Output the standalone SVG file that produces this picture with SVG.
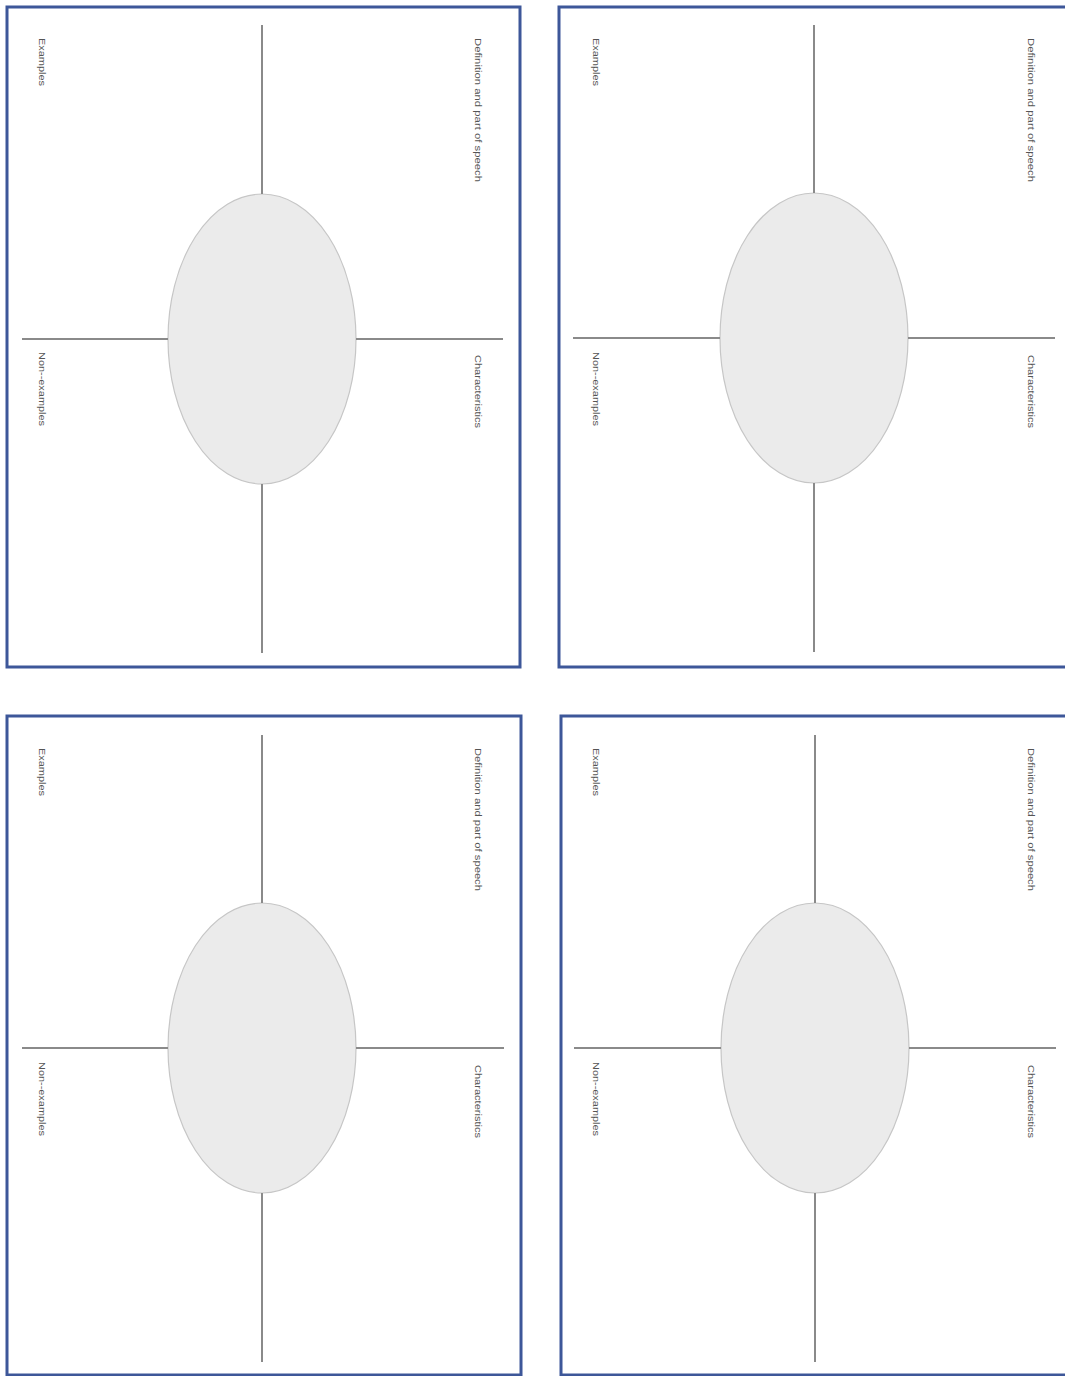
<svg xmlns="http://www.w3.org/2000/svg" width="1065" height="1376" viewBox="0 0 1065 1376">
<style>
.card{fill:#fff;stroke:#3d5799;stroke-width:3}
.ell{fill:#ebebeb;stroke:#c6c6c6;stroke-width:1.2}
.ln{stroke:#8a8a8a;stroke-width:2;fill:none}
.lbl{font-family:"Liberation Sans Narrow","Liberation Sans",Arial,sans-serif;font-size:9.5px;fill:#555}
</style>
<rect width="1065" height="1376" fill="#fff"/>
<g id="card1">
<rect class="card" x="7" y="7" width="513" height="660"/>
<ellipse class="ell" cx="262" cy="339" rx="94" ry="145"/>
<text class="lbl" transform="translate(39,38) rotate(90)" textLength="48" lengthAdjust="spacingAndGlyphs">Examples</text>
<text class="lbl" transform="translate(475,38) rotate(90)" textLength="144" lengthAdjust="spacingAndGlyphs">Definition and part of speech</text>
<text class="lbl" transform="translate(39,352) rotate(90)" textLength="74" lengthAdjust="spacingAndGlyphs">Non--examples</text>
<text class="lbl" transform="translate(475,355) rotate(90)" textLength="73" lengthAdjust="spacingAndGlyphs">Characteristics</text>
</g>
<g id="card2">
<rect class="card" x="559" y="7" width="513" height="660"/>
<ellipse class="ell" cx="814" cy="338" rx="94" ry="145"/>
<text class="lbl" transform="translate(593,38) rotate(90)" textLength="48" lengthAdjust="spacingAndGlyphs">Examples</text>
<text class="lbl" transform="translate(1028,38) rotate(90)" textLength="144" lengthAdjust="spacingAndGlyphs">Definition and part of speech</text>
<text class="lbl" transform="translate(593,352) rotate(90)" textLength="74" lengthAdjust="spacingAndGlyphs">Non--examples</text>
<text class="lbl" transform="translate(1028,355) rotate(90)" textLength="73" lengthAdjust="spacingAndGlyphs">Characteristics</text>
</g>
<g id="card3">
<rect class="card" x="7" y="716" width="514" height="659"/>
<ellipse class="ell" cx="262" cy="1048" rx="94" ry="145"/>
<text class="lbl" transform="translate(39,748) rotate(90)" textLength="48" lengthAdjust="spacingAndGlyphs">Examples</text>
<text class="lbl" transform="translate(475,748) rotate(90)" textLength="143" lengthAdjust="spacingAndGlyphs">Definition and part of speech</text>
<text class="lbl" transform="translate(39,1062) rotate(90)" textLength="74" lengthAdjust="spacingAndGlyphs">Non--examples</text>
<text class="lbl" transform="translate(475,1065) rotate(90)" textLength="73" lengthAdjust="spacingAndGlyphs">Characteristics</text>
</g>
<g id="card4">
<rect class="card" x="561" y="716" width="513" height="659"/>
<ellipse class="ell" cx="815" cy="1048" rx="94" ry="145"/>
<text class="lbl" transform="translate(593,748) rotate(90)" textLength="48" lengthAdjust="spacingAndGlyphs">Examples</text>
<text class="lbl" transform="translate(1028,748) rotate(90)" textLength="143" lengthAdjust="spacingAndGlyphs">Definition and part of speech</text>
<text class="lbl" transform="translate(593,1062) rotate(90)" textLength="74" lengthAdjust="spacingAndGlyphs">Non--examples</text>
<text class="lbl" transform="translate(1028,1065) rotate(90)" textLength="73" lengthAdjust="spacingAndGlyphs">Characteristics</text>
</g>
<g id="connectors">
<line class="ln" x1="262" y1="25" x2="262" y2="194"/>
<line class="ln" x1="262" y1="484" x2="262" y2="653"/>
<line class="ln" x1="22" y1="339" x2="168" y2="339"/>
<line class="ln" x1="356" y1="339" x2="503" y2="339"/>
<line class="ln" x1="814" y1="25" x2="814" y2="193"/>
<line class="ln" x1="814" y1="483" x2="814" y2="652"/>
<line class="ln" x1="573" y1="338" x2="720" y2="338"/>
<line class="ln" x1="908" y1="338" x2="1055" y2="338"/>
<line class="ln" x1="262" y1="735" x2="262" y2="903"/>
<line class="ln" x1="262" y1="1193" x2="262" y2="1362"/>
<line class="ln" x1="22" y1="1048" x2="168" y2="1048"/>
<line class="ln" x1="356" y1="1048" x2="504" y2="1048"/>
<line class="ln" x1="815" y1="735" x2="815" y2="903"/>
<line class="ln" x1="815" y1="1193" x2="815" y2="1362"/>
<line class="ln" x1="574" y1="1048" x2="721" y2="1048"/>
<line class="ln" x1="909" y1="1048" x2="1056" y2="1048"/>
</g>
</svg>
